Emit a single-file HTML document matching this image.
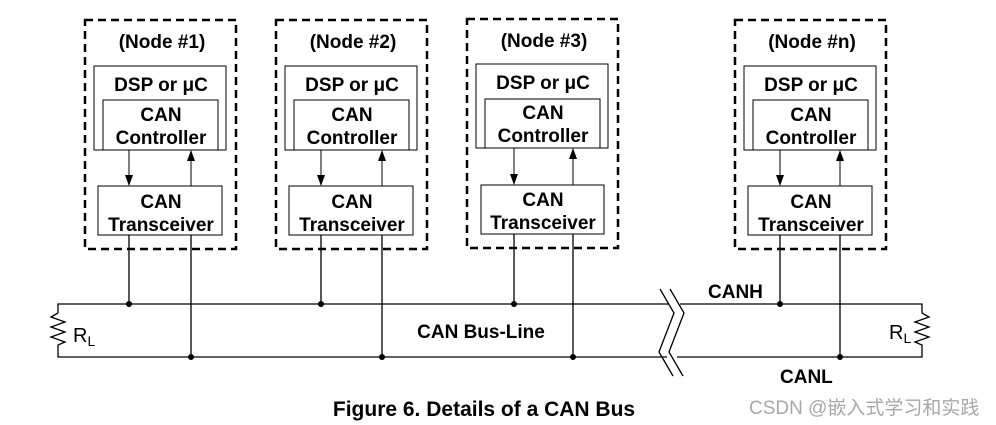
<!DOCTYPE html>
<html><head><meta charset="utf-8"><style>
html,body{margin:0;padding:0;background:#fff;}
svg{display:block;}
text{font-family:"Liberation Sans",Arial,sans-serif;font-weight:bold;fill:#000;}
</style></head><body>
<svg width="996" height="425" viewBox="0 0 996 425" xmlns="http://www.w3.org/2000/svg">

<g font-size="19">
<g transform="translate(85,20)">
<rect x="0" y="0" width="151" height="229" fill="none" stroke="#000" stroke-width="2.5" stroke-dasharray="8,5"/>
<text x="77" y="28" text-anchor="middle">(Node #1)</text>
<rect x="9" y="46" width="132" height="84" fill="none" stroke="#000"/>
<text x="76" y="71" text-anchor="middle">DSP or μC</text>
<rect x="18" y="80" width="115" height="50" fill="none" stroke="#000"/>
<text x="76" y="101" text-anchor="middle">CAN</text>
<text x="76" y="124" text-anchor="middle">Controller</text>
<rect x="13" y="166" width="124" height="49" fill="none" stroke="#000"/>
<text x="76" y="188" text-anchor="middle">CAN</text>
<text x="76" y="211" text-anchor="middle">Transceiver</text>
<line x1="44" y1="130" x2="44" y2="165" stroke="#000"/>
<path d="M40,155 L48,155 L44,166 Z"/>
<line x1="106" y1="166" x2="106" y2="131" stroke="#000"/>
<path d="M102,141 L110,141 L106,130 Z"/>
</g>
<g transform="translate(276,20)">
<rect x="0" y="0" width="151" height="229" fill="none" stroke="#000" stroke-width="2.5" stroke-dasharray="8,5"/>
<text x="77" y="28" text-anchor="middle">(Node #2)</text>
<rect x="9" y="46" width="132" height="84" fill="none" stroke="#000"/>
<text x="76" y="71" text-anchor="middle">DSP or μC</text>
<rect x="18" y="80" width="115" height="50" fill="none" stroke="#000"/>
<text x="76" y="101" text-anchor="middle">CAN</text>
<text x="76" y="124" text-anchor="middle">Controller</text>
<rect x="13" y="166" width="124" height="49" fill="none" stroke="#000"/>
<text x="76" y="188" text-anchor="middle">CAN</text>
<text x="76" y="211" text-anchor="middle">Transceiver</text>
<line x1="45" y1="130" x2="45" y2="165" stroke="#000"/>
<path d="M41,155 L49,155 L45,166 Z"/>
<line x1="106" y1="166" x2="106" y2="131" stroke="#000"/>
<path d="M102,141 L110,141 L106,130 Z"/>
</g>
<g transform="translate(467,19)">
<rect x="0" y="0" width="151" height="229" fill="none" stroke="#000" stroke-width="2.5" stroke-dasharray="8,5"/>
<text x="77" y="28" text-anchor="middle">(Node #3)</text>
<rect x="9" y="45" width="132" height="84" fill="none" stroke="#000"/>
<text x="76" y="70" text-anchor="middle">DSP or μC</text>
<rect x="18" y="80" width="115" height="49" fill="none" stroke="#000"/>
<text x="76" y="100" text-anchor="middle">CAN</text>
<text x="76" y="123" text-anchor="middle">Controller</text>
<rect x="14" y="166" width="123" height="49" fill="none" stroke="#000"/>
<text x="76" y="187" text-anchor="middle">CAN</text>
<text x="76" y="210" text-anchor="middle">Transceiver</text>
<line x1="47" y1="129" x2="47" y2="165" stroke="#000"/>
<path d="M43,155 L51,155 L47,166 Z"/>
<line x1="106" y1="166" x2="106" y2="130" stroke="#000"/>
<path d="M102,140 L110,140 L106,129 Z"/>
</g>
<g transform="translate(735,20)">
<rect x="0" y="0" width="151" height="229" fill="none" stroke="#000" stroke-width="2.5" stroke-dasharray="8,5"/>
<text x="77" y="28" text-anchor="middle">(Node #n)</text>
<rect x="9" y="46" width="132" height="84" fill="none" stroke="#000"/>
<text x="76" y="71" text-anchor="middle">DSP or μC</text>
<rect x="18" y="80" width="115" height="50" fill="none" stroke="#000"/>
<text x="76" y="101" text-anchor="middle">CAN</text>
<text x="76" y="124" text-anchor="middle">Controller</text>
<rect x="13" y="166" width="124" height="49" fill="none" stroke="#000"/>
<text x="76" y="188" text-anchor="middle">CAN</text>
<text x="76" y="211" text-anchor="middle">Transceiver</text>
<line x1="45" y1="130" x2="45" y2="165" stroke="#000"/>
<path d="M41,155 L49,155 L45,166 Z"/>
<line x1="105" y1="166" x2="105" y2="131" stroke="#000"/>
<path d="M101,141 L109,141 L105,130 Z"/>
</g>
</g>

<g stroke="#000" stroke-width="1.3" fill="none">
<path d="M58,313 L58,304 L669,304"/>
<path d="M58,348 L58,357 L667,357"/>
<path d="M58,313 L51,317 L65,322 L51,327 L65,332 L51,337 L65,342 L58,345 L58,348"/>
<path d="M680,304 L922,304 L922,313"/>
<path d="M677,357 L922,357 L922,348"/>
<path d="M922,313 L929,317 L915,322 L929,327 L915,332 L929,337 L915,342 L922,345 L922,348"/>
<path d="M660,289 L674,313 L659,352 L673,376"/>
<path d="M670,289 L684,313 L669,352 L683,376"/>
<line x1="129" y1="235" x2="129" y2="304"/>
<line x1="191" y1="235" x2="191" y2="357"/>
<line x1="321" y1="235" x2="321" y2="304"/>
<line x1="382" y1="235" x2="382" y2="357"/>
<line x1="514" y1="234" x2="514" y2="304"/>
<line x1="573" y1="234" x2="573" y2="357"/>
<line x1="780" y1="235" x2="780" y2="304"/>
<line x1="840" y1="235" x2="840" y2="357"/>
</g>
<g fill="#000">
<circle cx="129" cy="304" r="3"/><circle cx="191" cy="357" r="3"/>
<circle cx="321" cy="304" r="3"/><circle cx="382" cy="357" r="3"/>
<circle cx="514" cy="304" r="3"/><circle cx="573" cy="357" r="3"/>
<circle cx="780" cy="304" r="3"/><circle cx="840" cy="357" r="3"/>
</g>
<text x="73" y="342" font-size="20" style="font-weight:normal">R<tspan font-size="14" dy="4">L</tspan></text>
<text x="889" y="339" font-size="20" style="font-weight:normal">R<tspan font-size="14" dy="4">L</tspan></text>
<text x="708" y="298" font-size="19">CANH</text>
<text x="780" y="383" font-size="19">CANL</text>
<text x="481" y="338" font-size="19" text-anchor="middle">CAN Bus-Line</text>
<text x="484" y="416" font-size="21" text-anchor="middle">Figure 6. Details of a CAN Bus</text>
<text x="749" y="414" font-size="19" style="font-weight:normal;fill:#a8a8a8;font-family:'Liberation Sans','Noto Sans CJK SC',sans-serif">CSDN @嵌入式学习和实践</text>
</svg>
</body></html>
